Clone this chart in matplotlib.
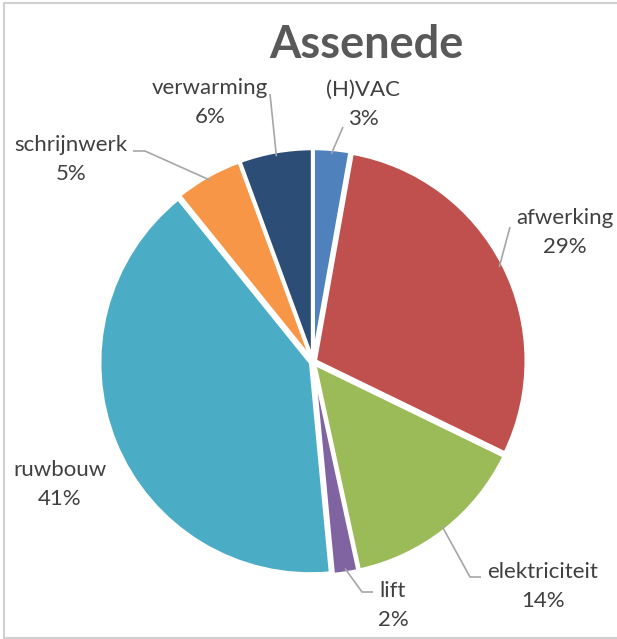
import matplotlib.pyplot as plt
import numpy as np

# data (clockwise from the top)
categories = ['(H)VAC', 'afwerking', 'elektriciteit', 'lift', 'ruwbouw', 'schrijnwerk', 'verwarming']
shares = [2.8, 29.4, 14.4, 1.9, 40.7, 5.2, 5.6]
pct_labels = ['3%', '29%', '14%', '2%', '41%', '5%', '6%']
colors = ['#4F81BD', '#C0504D', '#9BBB59', '#8064A2', '#4BACC6', '#F79646', '#2C4D75']

W, H = 617, 639
fig = plt.figure(figsize=(W / 100, H / 100), dpi=100)
ax = fig.add_axes([0, 0, 1, 1])

# pixel-like coordinates, y up
cx, cy, r = 313, H - 362, 211
wedges, _ = ax.pie(shares, colors=colors, startangle=90, counterclock=False,
                   center=(cx, cy), radius=r, explode=[2.5] * len(shares),
                   wedgeprops=dict(edgecolor='white', linewidth=2.5))
ax.set_xlim(0, W)
ax.set_ylim(0, H)
ax.set_aspect('equal')
ax.axis('off')

# label placement (text centre, in px from top-left) and leader line bend points
label_pos = {
    '(H)VAC': (363, 90),
    'afwerking': (565, 218),
    'elektriciteit': (543, 572),
    'lift': (393, 591),
    'ruwbouw': (60, 470),
    'schrijnwerk': (71, 145),
    'verwarming': (210, 88),
}
leaders = {
    '(H)VAC': [(343, 127)],
    'afwerking': [(510, 227)],
    'elektriciteit': [(470, 577), (481, 577)],
    'lift': [(362, 592), (373, 592)],
    'schrijnwerk': [(145, 151), (133, 151)],
    'verwarming': [(270, 94)],
}

txt = '#404040'
for name, pct, w in zip(categories, pct_labels, wedges):
    lx, ly = label_pos[name]
    ax.text(lx, H - ly, name, ha='center', va='center', fontsize=16,
            color=txt, family='Lato')
    ax.text(lx, H - ly - 29, pct, ha='center', va='center', fontsize=16,
            color=txt, family='Lato')
    if name in leaders:
        ang = np.deg2rad(0.5 * (w.theta1 + w.theta2))
        px = [cx + (r - 2) * np.cos(ang)] + [p[0] for p in leaders[name]]
        py = [cy + (r - 2) * np.sin(ang)] + [H - p[1] for p in leaders[name]]
        ax.plot(px, py, color='#A6A6A6', lw=1.2, solid_capstyle='butt')

ax.text(366, H - 45, 'Assenede', ha='center', va='center', fontsize=32.5,
        fontweight='bold', color='#595959', family='Lato')

# chart frame (cropped on the right)
ax.plot([617, 4, 4, 617], [H - 3, H - 3, H - 638, H - 638], color='#D0D0D0', lw=1.5)

fig.savefig('out.png', dpi=100)
